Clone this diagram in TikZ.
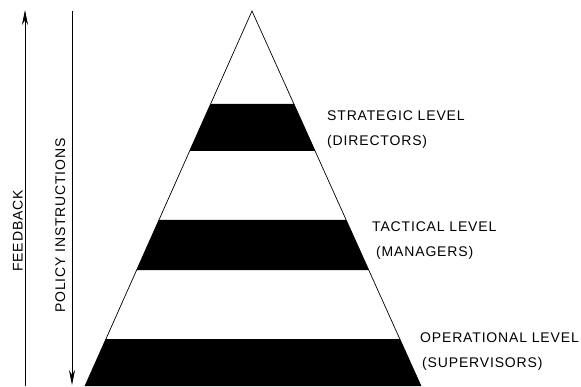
\documentclass[tikz,border=0pt]{standalone}
\usepackage{fontspec}
\setmainfont{Liberation Sans}
\newfontfamily\lettering{Liberation Sans}[LetterSpace=6]
\usetikzlibrary{positioning, arrows.meta, calc}

\begin{document}
\begin{tikzpicture}[
  x=1pt, y=1pt,
  > = {Stealth[length=15pt, width=6pt]},
  font=\lettering\fontsize{14}{16}\selectfont,
  level/.style={anchor=base west, inner sep=0pt},
  side/.style={anchor=base, inner sep=0pt, rotate=90},
  band/.style={fill=black},
  arr/.style={->, line width=0.8pt}
]
  \useasboundingbox (0,0) rectangle (581,386);

  % pyramid
  \coordinate (top) at (252,375);
  \coordinate (bl)  at (85,0);
  \coordinate (br)  at (421,0);

  \fill[band] ($(bl)!.627!(top)$) -- ($(br)!.627!(top)$)
           -- ($(br)!.752!(top)$) -- ($(bl)!.752!(top)$) -- cycle;
  \fill[band] ($(bl)!.309!(top)$) -- ($(br)!.309!(top)$)
           -- ($(br)!.443!(top)$) -- ($(bl)!.443!(top)$) -- cycle;
  \fill[band] (bl) -- (br)
           -- ($(br)!.125!(top)$) -- ($(bl)!.125!(top)$) -- cycle;
  \draw[line width=0.7pt] (bl) -- (top) -- (br);

  % levels
  \node[level] (str) at (327,265) {STRATEGIC LEVEL};
  \node[level] (dir) at (327,240) {(DIRECTORS)};
  \node[level] (tac) at (372,154) {TACTICAL LEVEL};
  \node[level] (man) at (376,129) {(MANAGERS)};
  \node[level] (ope) at (420,44)  {OPERATIONAL LEVEL};
  \node[level] (sup) at (422,19)  {(SUPERVISORS)};

  % feedback and policy
  \coordinate (fb-s)  at (25,0);
  \coordinate (fb-e)  at (25,376);
  \coordinate (pol-s) at (72,375);
  \coordinate (pol-e) at (72,1);

  \draw[arr] (fb-s) -- (fb-e);
  \draw[arr] (pol-s) -- (pol-e);

  \node[side] (fb)  at (22.5,155) {FEEDBACK};
  \node[side] (pol) at (65,160.5) {POLICY INSTRUCTIONS};
\end{tikzpicture}
\end{document}
